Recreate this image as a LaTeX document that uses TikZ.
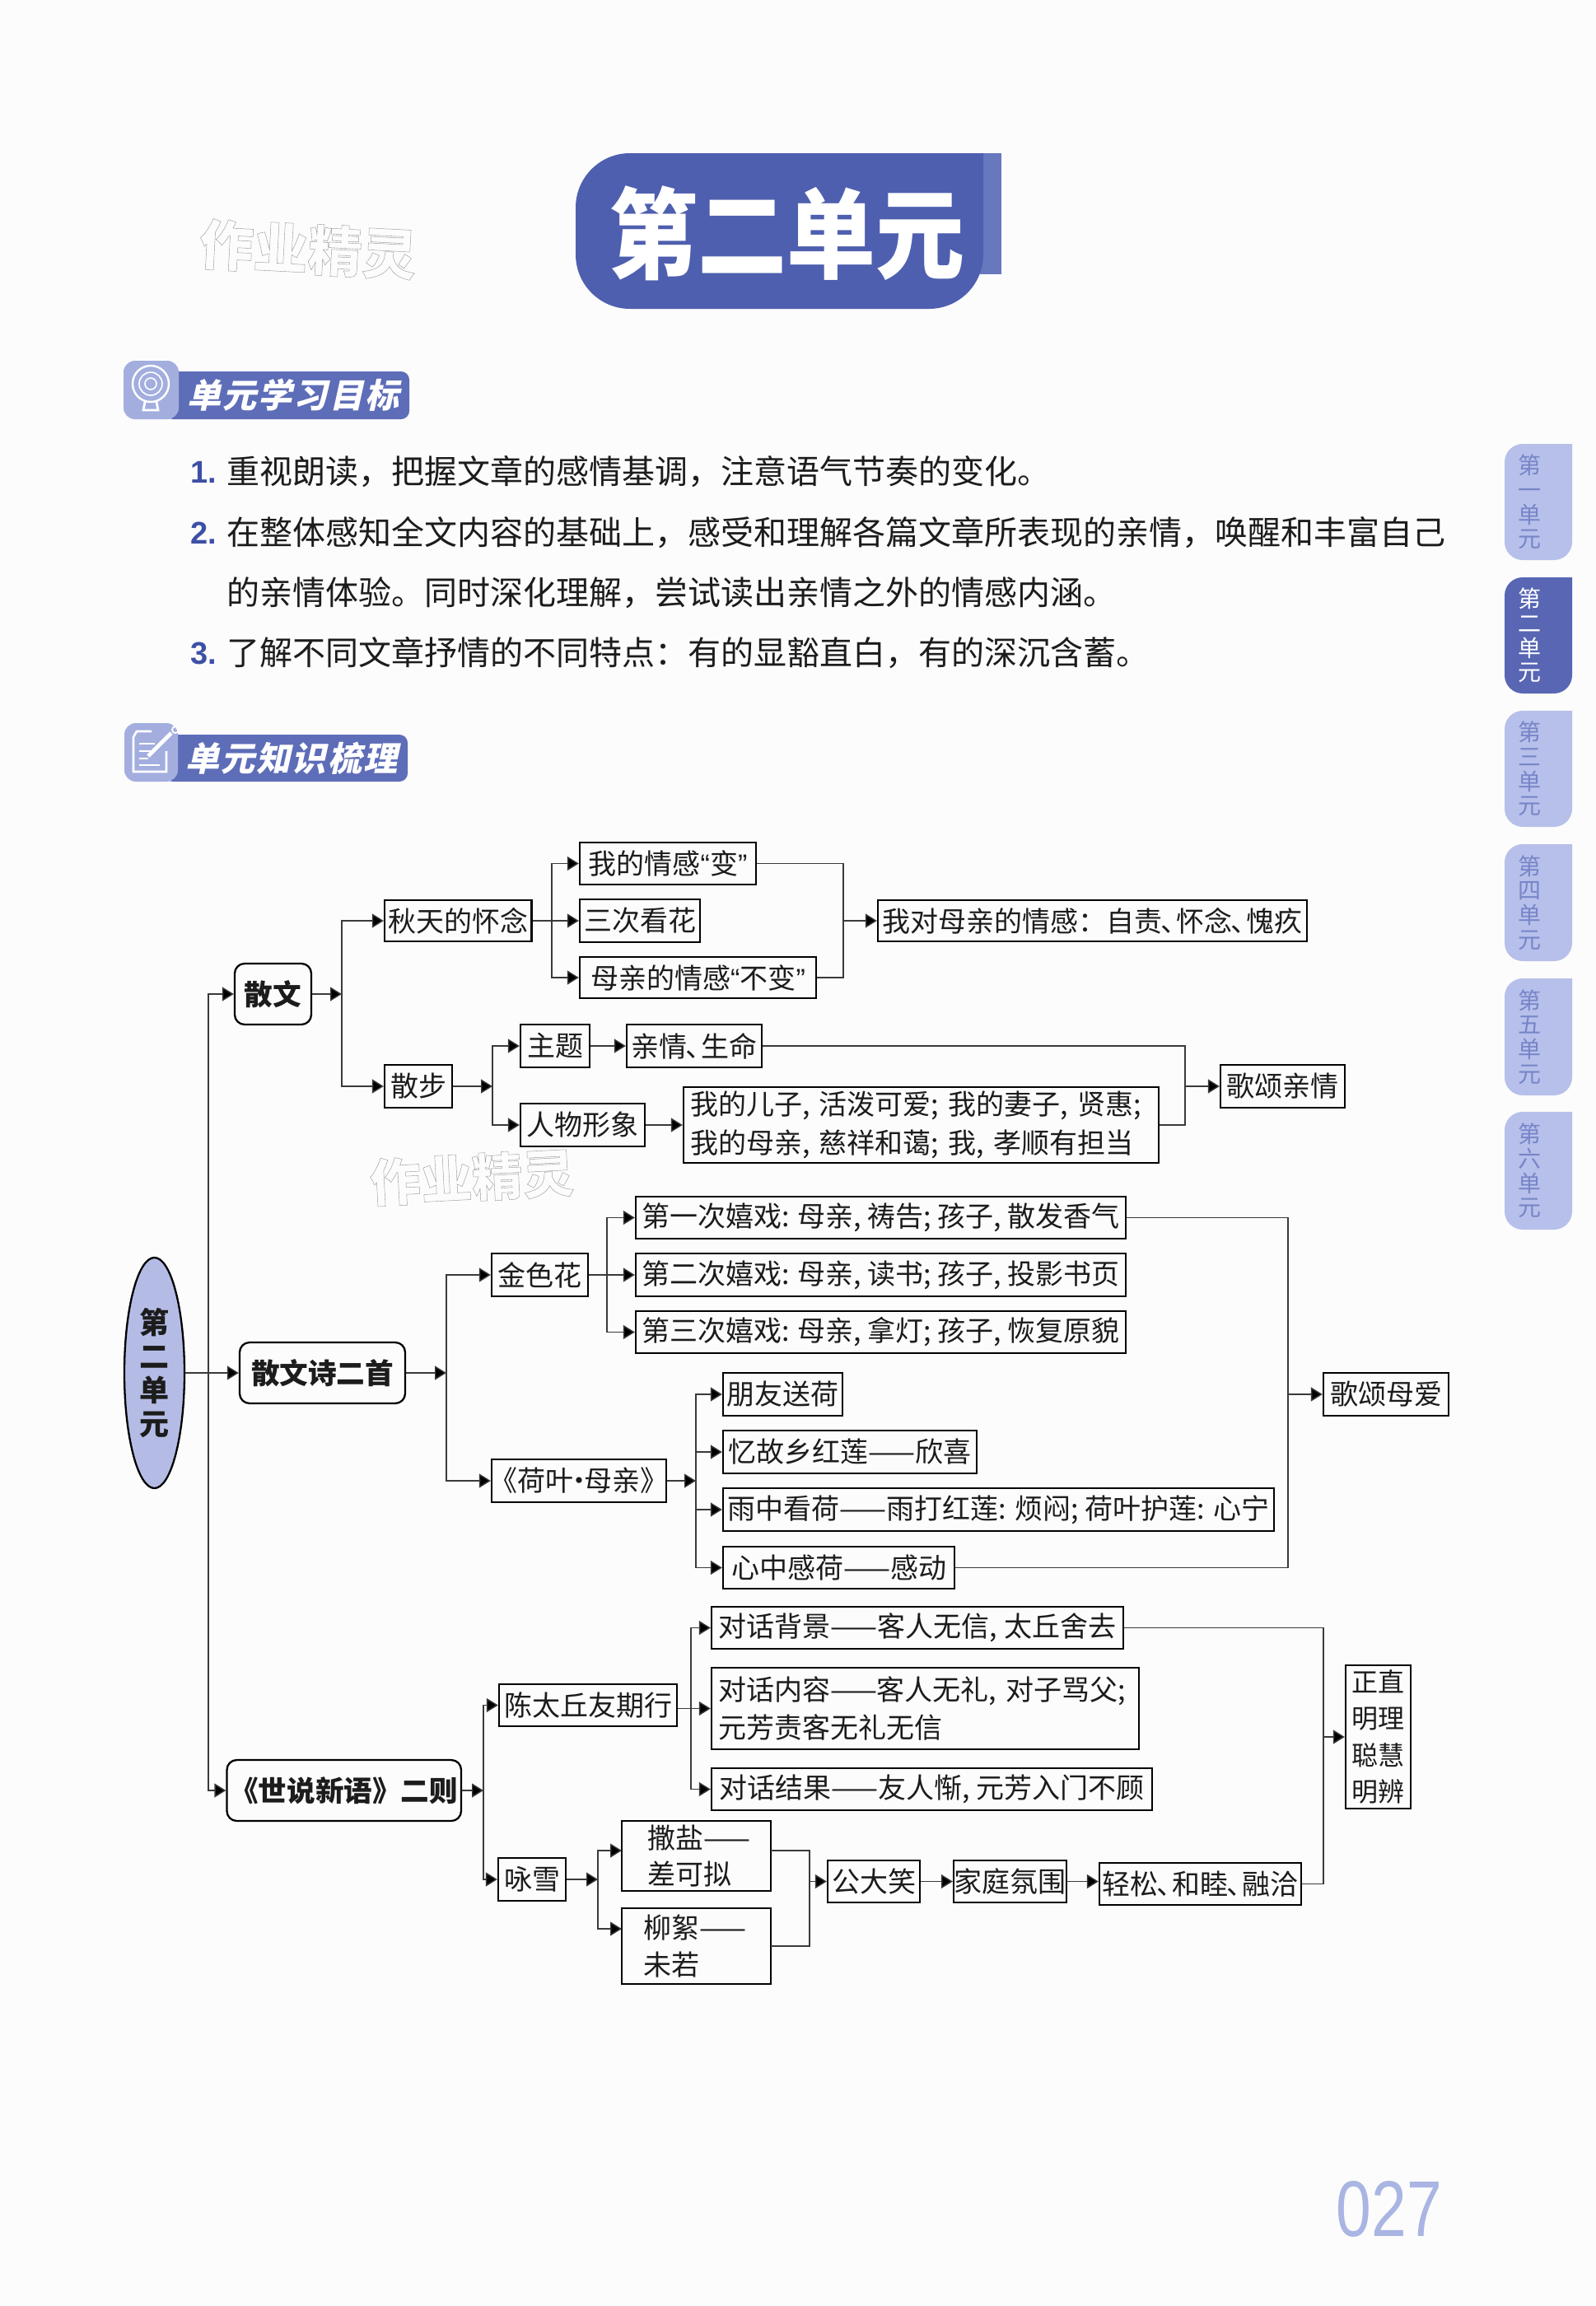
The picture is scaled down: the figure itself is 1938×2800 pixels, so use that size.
\documentclass[tikz,border=0pt]{standalone}
\usepackage{fontspec}
\usepackage{graphicx}
\usetikzlibrary{arrows.meta,shapes.geometric}
\setmainfont{Noto Sans CJK SC}
\newfontfamily\hdrfont{Noto Sans CJK SC}[LetterSpace=5,BoldFeatures={FakeSlant=0.22,LetterSpace=5}]
\newfontfamily\latfont{Liberation Sans}
\definecolor{ink}{HTML}{1C1C1C}
\definecolor{bandblue}{HTML}{5E6DB8}
\definecolor{iconblue}{HTML}{A3AEDF}
\definecolor{titleblue}{HTML}{4F5FAF}
\definecolor{stripblue}{HTML}{6878BE}
\definecolor{tablight}{HTML}{B6C0EA}
\definecolor{tabdark}{HTML}{5866B4}
\definecolor{tabtext}{HTML}{7785C8}
\definecolor{numblue}{HTML}{3D50A5}
\definecolor{pagenum}{HTML}{A9B5E2}
\definecolor{rootblue}{HTML}{B4BCE6}
\definecolor{linegray}{HTML}{3A3A3A}
\newcommand{\qL}{{\latfont “}}
\newcommand{\qR}{{\latfont ”}}
\newcommand{\dun}{{\kern-.05em、\kern-.45em}}
\newcommand{\boxat}[7][plainbox]{\node[#1,minimum width={(#5-#3)*0.5pt},minimum height={(#6-#4)*0.5pt}] (#2) at ({(#3+#5)/2},{(#4+#6)/2}) {#7};}
\newcommand{\boxleft}[8][plainbox]{\node[#1,align=left,inner xsep={#7*0.5pt},text width={(#5-#3-2*#7)*0.5pt},minimum height={(#6-#4)*0.5pt}] (#2) at ({(#3+#5)/2},{(#4+#6)/2}) {#8};}
\newcommand{\pagetab}[6]{%
  \fill[#5] (1909,#2) [rounded corners=11pt] -- (1827,#2) -- (1827,#3) -- (1909,#3) [sharp corners] -- cycle;
  \node[tablabel,text=#6] (#1) at (1857,{(#2+#3)/2}) {第\\#4\\单\\元};}
\tikzset{
  plainbox/.style={draw=black,line width=1.15pt,inner sep=0pt,font=\fontsize{17}{23.4}\selectfont,text=ink},
  headbox/.style={plainbox,rounded corners=6pt,font=\fontsize{17.3}{23}\selectfont\bfseries},
  link/.style={draw=linegray,line width=.7pt},
  arr/.style={link,-{Triangle[length=7pt,width=8.5pt,fill=black]}},
  tablabel/.style={inner sep=0pt,align=center,font=\fontsize{14}{14.8}\selectfont},
  bodytext/.style={anchor=west,inner sep=0pt,text=ink,font=\fontsize{20}{24}\selectfont},
  bodynum/.style={anchor=west,inner sep=0pt,text=numblue,font=\fontsize{19}{24}\selectfont\latfont\bfseries},
  hdrtext/.style={inner sep=0pt,text=white,font=\fontsize{20.6}{24}\selectfont\hdrfont\bfseries},
}
\newcommand{\outlinetext}[1]{\special{pdf:code q 1 Tr 0.22 w 0.6 0.6 0.6 RG}#1\special{pdf:code 0 Tr Q}}
\begin{document}
\begin{tikzpicture}[x=0.5pt,y=-0.5pt]
\useasboundingbox (0,0) rectangle (1938,2800);
\fill[white!99!black] (0,0) rectangle (1938,2800);

% title
\fill[stripblue] (1190,186) rectangle (1216,333);
\fill[titleblue] (1194,186) [rounded corners=33pt] -- (699,186) -- (699,375) -- (1194,375) [sharp corners] -- cycle;
\node[inner sep=0pt,text=white,font=\fontsize{60}{60}\selectfont\bfseries] (title) at (955,283) {\scalebox{0.9}[1]{第二单元}};
\node[inner sep=0pt,rotate=-3,font=\fontsize{33}{33}\selectfont\bfseries] (mark1) at (374,303) {\outlinetext{作业精灵}};

% section header 1
\fill[bandblue,rounded corners=5pt] (200,451) rectangle (497,509);
\fill[iconblue,rounded corners=7pt] (150,438) rectangle (217,509);
\draw[white,line width=1.2pt] (183,466) circle (11pt);
\draw[white,line width=.8pt] (183,466) circle (7pt);
\draw[white,line width=.8pt] (183,466) circle (3.5pt);
\draw[white,line width=1.4pt] (176,488) -- (174,498) -- (192,498) -- (190,488);
\node[hdrtext] (h1) at (356,480) {单元学习目标};

% section header 2
\fill[bandblue,rounded corners=5pt] (200,892) rectangle (495,949);
\fill[iconblue,rounded corners=7pt] (151,878) rectangle (216,949);
\draw[white,line width=1.3pt] (184,888) -- (166,888) -- (162,895) -- (162,937) -- (202,937) -- (202,912);
\draw[white,line width=.7pt] (169,903) -- (188,903) (169,912) -- (183,912) (169,921) -- (180,921) (169,929) -- (194,929);
\draw[white,line width=2.4pt] (180,918) -- (208,890);
\draw[white,line width=.9pt] (213,886) circle (2pt);
\node[hdrtext] (h2) at (354,921) {单元知识梳理};

% objectives
\node[bodynum] (n1) at (231,573) {1.};
\node[bodytext] (t1) at (275,573) {重视朗读，把握文章的感情基调，注意语气节奏的变化。};
\node[bodynum] (n2) at (231,647) {2.};
\node[bodytext] (t2) at (275,647) {在整体感知全文内容的基础上，感受和理解各篇文章所表现的亲情，唤醒和丰富自己};
\node[bodytext] (t3) at (275,720) {的亲情体验。同时深化理解，尝试读出亲情之外的情感内涵。};
\node[bodynum] (n3) at (231,793) {3.};
\node[bodytext] (t4) at (275,793) {了解不同文章抒情的不同特点：有的显豁直白，有的深沉含蓄。};

% side tabs
\pagetab{tab1}{539}{680}{一}{tablight}{tabtext}
\pagetab{tab2}{701}{842}{二}{tabdark}{white}
\pagetab{tab3}{863}{1004}{三}{tablight}{tabtext}
\pagetab{tab4}{1025}{1167}{四}{tablight}{tabtext}
\pagetab{tab5}{1188}{1330}{五}{tablight}{tabtext}
\pagetab{tab6}{1350}{1493}{六}{tablight}{tabtext}

% page number
\node[inner sep=0pt,text=pagenum,font=\fontsize{48}{48}\selectfont\latfont] (pn) at (1687,2682) {\scalebox{0.8}[1]{027}};

% second watermark
\node[inner sep=0pt,rotate=3,font=\fontsize{31}{31}\selectfont\bfseries] (mark2) at (573,1430) {\outlinetext{作业精灵}};

% root
\node[draw=black,line width=1.15pt,fill=rootblue,ellipse,inner sep=0pt,minimum width=36.5pt,minimum height=140pt,align=center,text=ink,font=\fontsize{18}{20.5}\selectfont\bfseries] (root) at (187.5,1667) {第\\二\\单\\元};

% level 1
\boxat[headbox]{sw}{285}{1170}{378}{1244}{散文}
\boxat[headbox]{sws}{291}{1630}{492}{1704}{散文诗二首}
\boxat[headbox]{sx}{275.5}{2137}{560}{2211}{《世说新语》二则}

% 散文
\boxat{qt}{467}{1093}{645.5}{1143}{秋天的怀念}
\boxat{sb}{467}{1293}{549}{1345}{散步}
\boxat{wd}{704}{1023}{918}{1074}{我的情感\qL 变\qR}
\boxat{sc}{704}{1092}{850}{1144}{三次看花}
\boxat{mq}{704}{1162}{991}{1212}{母亲的情感\qL 不变\qR}
\boxat{qg}{1066}{1093}{1587}{1143}{我对母亲的情感：自责\dun 怀念\dun 愧疚}
\boxat{zt}{632}{1244}{716}{1296}{主题}
\boxat{qs}{761}{1244}{925}{1296}{亲情\dun 生命}
\boxat{rw}{632}{1340}{783}{1392}{人物形象}
\boxleft{wo}{830}{1320}{1407}{1412}{8}{我的儿子, 活泼可爱; 我的妻子, 贤惠;\\我的母亲, 慈祥和蔼; 我, 孝顺有担当}
\boxat{gq}{1482}{1293}{1633}{1345}{歌颂亲情}

% 散文诗二首
\boxat{jh}{597}{1522}{714}{1574}{金色花}
\boxat{hy}{597}{1772}{809}{1824}{\kern-.15em《荷叶{\kern-.3em·\kern-.3em}母亲》\kern-.15em}
\boxat{x1}{772}{1453}{1367}{1504}{第一次嬉戏: 母亲, 祷告; 孩子, 散发香气}
\boxat{x2}{772}{1522}{1367}{1574}{第二次嬉戏: 母亲, 读书; 孩子, 投影书页}
\boxat{x3}{772}{1592}{1367}{1643}{第三次嬉戏: 母亲, 拿灯; 孩子, 恢复原貌}
\boxat{y1}{878}{1667}{1023}{1719}{朋友送荷}
\boxat{y2}{878}{1737}{1186}{1789}{忆故乡红莲——欣喜}
\boxat{y3}{878}{1807}{1547}{1859}{雨中看荷——雨打红莲: 烦闷; 荷叶护莲: 心宁}
\boxat{y4}{878}{1878}{1159}{1929}{心中感荷——感动}
\boxat{gm}{1607}{1667}{1759}{1719}{歌颂母爱}

% 世说新语
\boxat{cn}{606}{2045}{822}{2096}{陈太丘友期行}
\boxat{yx}{605}{2256}{687}{2308}{咏雪}
\boxat{db}{864}{1951}{1364}{2002}{对话背景——客人无信, 太丘舍去}
\boxleft{dn}{864}{2025}{1383}{2124}{8}{对话内容——客人无礼, 对子骂父;\\元芳责客无礼无信}
\boxat{dj}{864}{2147}{1399}{2198}{对话结果——友人惭, 元芳入门不顾}
\boxleft[plainbox,font=\fontsize{17}{22.3}\selectfont]{sa}{755}{2211}{936}{2296}{6}{\hspace*{12.5pt}撒盐——\\\hspace*{12.5pt}差可拟}
\boxleft[plainbox,font=\fontsize{17}{22.3}\selectfont]{ly}{755}{2317}{936}{2409}{6}{\hspace*{10pt}柳絮——\\\hspace*{10pt}未若}
\boxat{gd}{1005}{2259}{1117}{2310}{公大笑}
\boxat{jt}{1158}{2259}{1295}{2310}{家庭氛围}
\boxat{qq}{1335}{2262}{1580}{2313}{轻松\dun 和睦\dun 融洽}
\node[plainbox,minimum width=39.5pt,minimum height=87pt,align=center,font=\fontsize{16}{22.2}\selectfont] (zz) at (1673.5,2109) {正直\\明理\\聪慧\\明辨};

% junction points
\coordinate (busM) at (253,1667);
\coordinate (busA) at (415,1207);
\coordinate (busQ) at (670,1118);
\coordinate (mrgQ) at (1024,1118);
\coordinate (busB) at (598,1319);
\coordinate (mrgS) at (1439,1319);
\coordinate (busC) at (542,1667);
\coordinate (busJ) at (737,1548);
\coordinate (busH) at (845,1798);
\coordinate (mrgM) at (1564,1693);
\coordinate (busX) at (587,2174);
\coordinate (busD) at (839,2074.5);
\coordinate (busY) at (726,2282);
\coordinate (saIn) at (755,2247);
\coordinate (lyIn) at (755,2342);
\coordinate (saOut) at (936,2247);
\coordinate (lyOut) at (936,2363);
\coordinate (mrgY) at (983,2284.5);
\coordinate (mrgZ) at (1607,2109);

% root connectors
\draw[arr] (root.east) -- (sws.west);
\draw[arr] (busM) |- (sw.west);
\draw[arr] (busM) |- (sx.west);

% 散文 connectors
\draw[arr] (sw.east) -- (busA);
\draw[arr] (busA) |- (qt.west);
\draw[arr] (busA) |- (sb.west);
\draw[arr] (qt.east) -- (sc.west);
\draw[arr] (busQ) |- (wd.west);
\draw[arr] (busQ) |- (mq.west);
\draw[link] (wd.east) -| (mrgQ) |- (mq.east);
\draw[arr] (mrgQ) -- (qg.west);
\draw[arr] (sb.east) -- (busB);
\draw[arr] (busB) |- (zt.west);
\draw[arr] (busB) |- (rw.west);
\draw[arr] (zt.east) -- (qs.west);
\draw[arr] (rw.east) -- (wo.west);
\draw[link] (qs.east) -| (mrgS) |- (wo.east);
\draw[arr] (mrgS) -- (gq.west);

% 散文诗二首 connectors
\draw[arr] (sws.east) -- (busC);
\draw[arr] (busC) |- (jh.west);
\draw[arr] (busC) |- (hy.west);
\draw[arr] (jh.east) -- (x2.west);
\draw[arr] (busJ) |- (x1.west);
\draw[arr] (busJ) |- (x3.west);
\draw[arr] (hy.east) -- (busH);
\draw[arr] (busH) |- (y1.west);
\draw[arr] (busH) |- (y2.west);
\draw[arr] (busH) |- (y3.west);
\draw[arr] (busH) |- (y4.west);
\draw[link] (x1.east) -| (mrgM) |- (y4.east);
\draw[arr] (mrgM) -- (gm.west);

% 世说新语 connectors
\draw[arr] (sx.east) -- (busX);
\draw[arr] (busX) |- (cn.west);
\draw[arr] (busX) |- (yx.west);
\draw[arr] (cn.east |- dn.west) -- (dn.west);
\draw[arr] (busD) |- (db.west);
\draw[arr] (busD) |- (dj.west);
\draw[arr] (yx.east) -- (busY);
\draw[arr] (busY) |- (saIn);
\draw[arr] (busY) |- (lyIn);
\draw[link] (saOut) -| (mrgY) |- (lyOut);
\draw[arr] (mrgY) -- (gd.west);
\draw[arr] (gd.east) -- (jt.west);
\draw[arr] (jt.east) -- (jt.east -| qq.west);
\draw[link] (db.east) -| (mrgZ) |- (qq.east);
\draw[arr] (mrgZ) -- (zz.west);
\end{tikzpicture}
\end{document}
